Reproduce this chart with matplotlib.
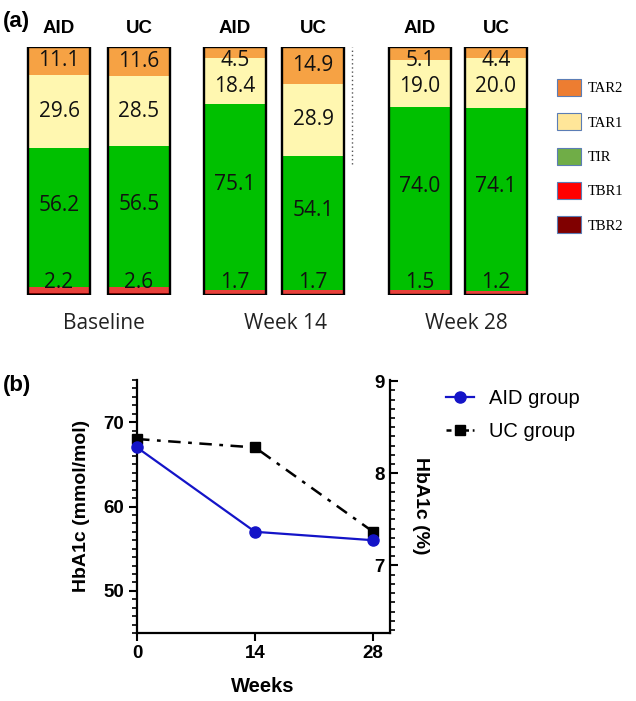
import matplotlib
matplotlib.use("Agg")
import matplotlib.pyplot as plt
from matplotlib.patches import Patch
from matplotlib.lines import Line2D
from matplotlib.ticker import MultipleLocator

# (a) time in ranges, % per arm and visit
groups = ["Baseline", "Week 14", "Week 28"]
arms = ["AID", "UC", "AID", "UC", "AID", "UC"]
tar2 = [11.1, 11.6, 4.5, 14.9, 5.1, 4.4]
tar1 = [29.6, 28.5, 18.4, 28.9, 19.0, 20.0]
tir = [56.2, 56.5, 75.1, 54.1, 74.0, 74.1]
tbr1 = [2.2, 2.6, 1.7, 1.7, 1.5, 1.2]
tbr2 = [0.9, 0.8, 0.3, 0.4, 0.4, 0.3]
range_names = ["TAR2", "TAR1", "TIR", "TBR1", "TBR2"]

# (b) HbA1c over time
weeks = [0, 14, 28]
aid_hba1c = [67, 57, 56]
uc_hba1c = [68, 67, 57]

# layout (pixel units of the panel a axes)
bar_x = [59, 139, 235, 313, 420, 496]
bar_w = 62
group_x = [104, 286, 466]

bar_cols = {"TAR2": "#F6A244", "TAR1": "#FFF7B0", "TIR": "#00C000",
            "TBR1": "#E8403A", "TBR2": "#8B0000"}
leg_cols = {"TAR2": "#ED7D31", "TAR1": "#FFE699", "TIR": "#70AD47",
            "TBR1": "#FF0000", "TBR2": "#800000"}

fig = plt.figure(figsize=(6.36, 7.01), dpi=100)
W, H = 636, 701

# ---------------- panel (a)
ax = fig.add_axes([0, 1 - 295 / H, 1, 248 / H])
ax.set_xlim(0, W)
ax.set_ylim(0, 100)
ax.axis("off")

bottom = [0] * 6
for name, vals in [("TBR2", tbr2), ("TBR1", tbr1), ("TIR", tir), ("TAR1", tar1), ("TAR2", tar2)]:
    ax.bar(bar_x, vals, bar_w, bottom=bottom, color=bar_cols[name], linewidth=0)
    bottom = [b + v for b, v in zip(bottom, vals)]
ax.bar(bar_x, bottom, bar_w, fill=False, edgecolor="black", linewidth=1.7)

num_font = dict(family="Open Sans", fontsize=15, ha="center", va="center", color="#111111")
for i, x in enumerate(bar_x):
    top2 = 100 - tar2[i] / 2
    ax.text(x, min(top2, 94.5), f"{tar2[i]:.1f}", **num_font)
    c1 = 100 - tar2[i] - tar1[i] / 2
    ax.text(x, min(c1, 84), f"{tar1[i]:.1f}", **num_font)
    c0 = tbr2[i] + tbr1[i] + tir[i] / 2
    ax.text(x, c0 + 5, f"{tir[i]:.1f}", **num_font)
    ax.text(x, 5, f"{tbr1[i]:.1f}", **num_font)
    ax.text(x, 107.5, arms[i], family="Liberation Sans", fontweight="bold",
            fontsize=13.5, ha="center", va="center")

for gx, g in zip(group_x, groups):
    ax.text(gx, -11.5, g, family="Open Sans", fontsize=15, ha="center", va="center",
            color="#222222")

ax.axvline(352, ymin=0.53, ymax=1.0, color="#555555", linestyle=(0, (1, 2)), linewidth=1)

fig.text(3 / W, 1 - 22 / H, "(a)", fontsize=16, fontweight="bold",
         family="Liberation Sans", ha="left", va="center")

handles = [Patch(facecolor=leg_cols[n], edgecolor="#5B7DB5", linewidth=0.8, label=n)
           for n in range_names]
fig.legend(handles=handles, loc="upper left", bbox_to_anchor=(557 / W, 1 - 79 / H),
           frameon=False, prop=dict(family="Liberation Serif", size=10.5),
           handlelength=1.65, handleheight=1.4, handletextpad=0.45,
           labelspacing=1.2, borderpad=0, borderaxespad=0)

# ---------------- panel (b)
bx = fig.add_axes([137 / W, 1 - 633 / H, 253 / W, 253 / H])
bx.plot(weeks, aid_hba1c, color="#1414C8", linewidth=1.6, marker="o",
        markersize=8, label="AID group", zorder=4, clip_on=False)
bx.plot(weeks, uc_hba1c, color="black", linewidth=1.8, linestyle=(0, (5, 3, 1.5, 3)),
        marker="s", markersize=7, label="UC group", zorder=3, clip_on=False)
bx.set_xlim(0, 30)
bx.set_ylim(45, 75)
bx.set_xticks(weeks)
bx.set_yticks([50, 60, 70])
bx.yaxis.set_minor_locator(MultipleLocator(1))
bx.spines["top"].set_visible(False)
bx.spines["right"].set_visible(False)
for s in ["left", "bottom"]:
    bx.spines[s].set_linewidth(1.6)
bx.tick_params(which="major", length=6, width=1.5, labelsize=13.5, pad=3)
bx.tick_params(which="minor", length=3.5, width=1.2)
for lbl in bx.get_xticklabels() + bx.get_yticklabels():
    lbl.set_fontweight("bold")
    lbl.set_family("Liberation Sans")

bx2 = bx.twinx()
bx2.set_ylim(45 / 10.929 + 2.15, 75 / 10.929 + 2.15)
bx2.set_yticks([7, 8, 9])
bx2.yaxis.set_minor_locator(MultipleLocator(0.1))
for s in ["left", "top", "bottom"]:
    bx2.spines[s].set_visible(False)
bx2.spines["right"].set_linewidth(1.6)
bx2.tick_params(which="major", length=6, width=1.5, labelsize=13.5, pad=-10)
bx2.tick_params(which="minor", length=3.5, width=1.2)
for t in bx2.yaxis.get_major_ticks():
    t.label2.set_horizontalalignment("right")
    t.label2.set_fontweight("bold")
    t.label2.set_family("Liberation Sans")

fig.text(82 / W, 1 - 506 / H, "HbA1c (mmol/mol)", rotation=90, fontsize=14,
         fontweight="bold", family="Liberation Sans", ha="center", va="center")
fig.text(421 / W, 1 - 506 / H, "HbA1c (%)", rotation=270, fontsize=14,
         fontweight="bold", family="Liberation Sans", ha="center", va="center")
fig.text(263 / W, 1 - 687 / H, "Weeks", fontsize=14.5, fontweight="bold",
         family="Liberation Sans", ha="center", va="center")
fig.text(3 / W, 1 - 385 / H, "(b)", fontsize=16, fontweight="bold",
         family="Liberation Sans", ha="left", va="center")

lh = [Line2D([], [], color="#1414C8", linewidth=1.6, marker="o", markersize=8),
      Line2D([], [], color="black", linewidth=1.8, linestyle=(0, (2, 1.5)),
             marker="s", markersize=7)]
fig.legend(lh, ["AID group", "UC group"], loc="upper left",
           bbox_to_anchor=(446 / W, 1 - 389 / H), frameon=False,
           prop=dict(family="Liberation Sans", size=14.5),
           handlelength=1.4, handletextpad=0.75, labelspacing=0.7,
           borderpad=0, borderaxespad=0)

fig.savefig("out.png", dpi=100)
